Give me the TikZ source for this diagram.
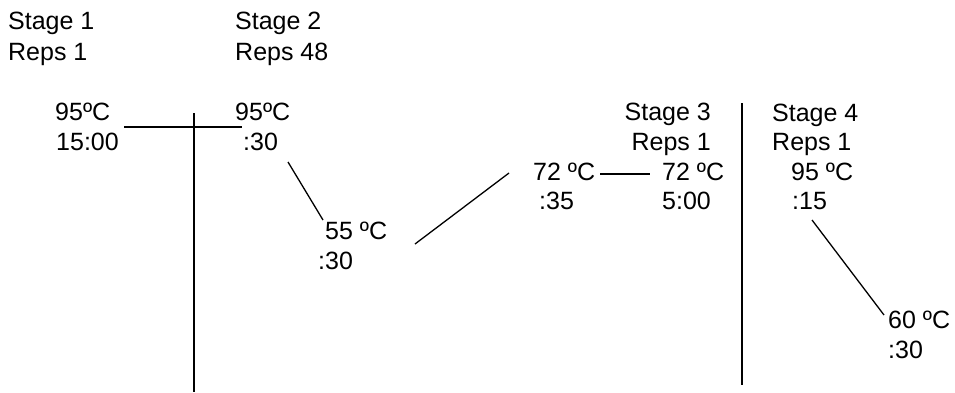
\documentclass[tikz,border=0pt]{standalone}
\usepackage{fontspec}
\setmainfont{Liberation Sans}
\begin{document}
\begin{tikzpicture}[x=1pt,y=-1pt,
  lbl/.style={anchor=base west,inner sep=0pt,font=\fontsize{25}{30}\selectfont},
  lblr/.style={anchor=base east,inner sep=0pt,font=\fontsize{25}{30}\selectfont},
  thin line/.style={line width=1.3pt},
  thick line/.style={line width=2pt}]
\useasboundingbox (0,0) rectangle (955,392);
% stage headers
\node[lbl] (s1) at (8,29) {Stage 1};
\node[lbl] (r1) at (8,60) {Reps 1};
\node[lbl] (s2) at (235,29) {Stage 2};
\node[lbl] (r2) at (235,60) {Reps 48};
\node[lblr] (s3) at (711,120) {Stage 3};
\node[lblr] (r3) at (711,150) {Reps 1};
\node[lbl] (s4) at (772,121) {Stage 4};
\node[lbl] (r4) at (772,150) {Reps 1};
% steps
\node[lbl] (t1) at (55,120) {95ºC};
\node[lbl] (d1) at (56,150) {15:00};
\node[lbl] (t2) at (235,120) {95ºC};
\node[lbl] (d2) at (243,150) {:30};
\node[lbl] (t3) at (325,239) {55 ºC};
\node[lbl] (d3) at (318,269) {:30};
\node[lbl] (t4) at (533,180) {72 ºC};
\node[lbl] (d4) at (539,209) {:35};
\node[lbl] (t5) at (662,180) {72 ºC};
\node[lbl] (d5) at (662,209) {5:00};
\node[lbl] (t6) at (791,180) {95 ºC};
\node[lbl] (d6) at (792,209) {:15};
\node[lbl] (t7) at (888,328) {60 ºC};
\node[lbl] (d7) at (888,358) {:30};
% line ends
\coordinate (h1a) at (124,127); \coordinate (h1b) at (242,127);
\coordinate (v1a) at (194,113); \coordinate (v1b) at (194,392);
\coordinate (g1a) at (288,162); \coordinate (g1b) at (323,220);
\coordinate (g2a) at (415,244); \coordinate (g2b) at (509,173);
\coordinate (h2a) at (600,174); \coordinate (h2b) at (650,174);
\coordinate (v2a) at (742,103); \coordinate (v2b) at (742,385);
\coordinate (g3a) at (812,220); \coordinate (g3b) at (884,315);
\draw[thin line] (h1a) -- (h1b);
\draw[thick line] (v1a) -- (v1b);
\draw[thin line] (g1a) -- (g1b);
\draw[thin line] (g2a) -- (g2b);
\draw[thin line] (h2a) -- (h2b);
\draw[thick line] (v2a) -- (v2b);
\draw[thin line] (g3a) -- (g3b);
\end{tikzpicture}
\end{document}
